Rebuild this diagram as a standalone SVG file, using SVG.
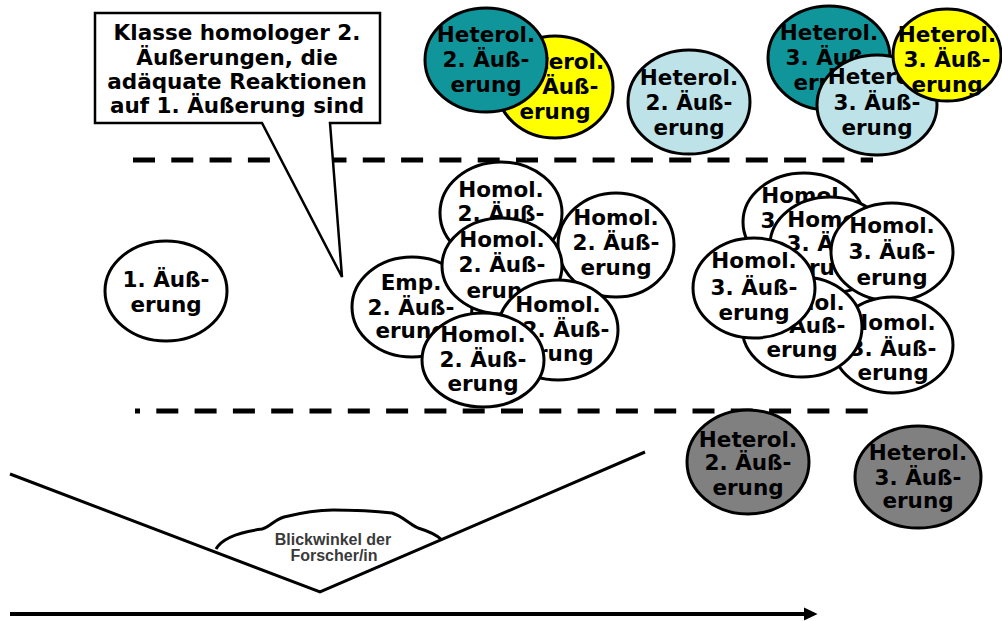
<svg xmlns="http://www.w3.org/2000/svg" width="1002" height="621" viewBox="0 0 1002 621">
<defs>
<style>
.n{stroke:#000;stroke-width:3}
.w{fill:#fff}
.teal{fill:#10959a}
.yel{fill:#ffff00}
.lb{fill:#bde3e8}
.gr{fill:#808080}
.t{font-family:"DejaVu Sans","Liberation Sans",sans-serif;font-weight:bold;font-size:21.5px;text-anchor:middle;fill:#000}
.c{font-family:"DejaVu Sans","Liberation Sans",sans-serif;font-weight:bold;font-size:21.5px;text-anchor:middle;fill:#000}
.s{font-family:"Liberation Sans",Arial,sans-serif;font-weight:bold;font-size:16px;text-anchor:middle;fill:#3a3a3a}
.dash{stroke:#000;stroke-width:5;stroke-dasharray:22 16.3;fill:none}
.ln{stroke:#000;stroke-width:3;fill:none}
</style>
<marker id="ah" markerWidth="5" markerHeight="5" refX="0.5" refY="2.5" orient="auto" markerUnits="strokeWidth">
<path d="M0,0.9 L3.4,2.5 L0,4.1 Z" fill="#000"/>
</marker>
</defs>
<rect width="1002" height="621" fill="#fff"/>

<g id="connectors">
<line class="dash" x1="133" y1="160" x2="873" y2="160"/>
<line class="dash" x1="135" y1="411" x2="881" y2="411" stroke-dashoffset="17"/>
<polyline class="ln" points="10,474 320,592 645,452"/>
<path class="ln" stroke-width="2.5" d="M216,549 C222,538 240,532 262,529 C270,527 274,520 284,517 C300,513 315,510 333,510 C355,510 375,511 392,513 C402,516 408,523 418,528 C428,531 436,534 442,540"/>
<line x1="10" y1="614" x2="806" y2="614" stroke="#000" stroke-width="4" marker-end="url(#ah)"/>
</g>

<g id="callout">
<path d="M95,13 H380 V123 H330 L342,277 L262,123 H95 Z" fill="#fff" stroke="#000" stroke-width="2.5" stroke-linejoin="miter"/>
<text class="c" x="237" y="40">Klasse homologer 2.</text>
<text class="c" x="237" y="65">Äußerungen, die</text>
<text class="c" x="237" y="89">adäquate Reaktionen</text>
<text class="c" x="237" y="113">auf 1. Äußerung sind</text>
</g>

<g id="blickwinkel">
<text class="s" x="333" y="545">Blickwinkel der</text>
<text class="s" x="334" y="561">Forscher/in</text>
</g>

<g id="n1">
<ellipse class="n w" cx="166" cy="291" rx="61" ry="50"/>
<text class="t" x="166" y="287">1. Äuß-</text>
<text class="t" x="166" y="312">erung</text>
</g>

<g id="het2-yellow">
<ellipse class="n yel" cx="555" cy="87" rx="58" ry="51"/>
<text class="t" x="555" y="69">Heterol.</text>
<text class="t" x="555" y="94">2. Äuß-</text>
<text class="t" x="555" y="119">erung</text>
</g>
<g id="het2-teal">
<ellipse class="n teal" cx="486" cy="60" rx="61" ry="52"/>
<text class="t" x="486" y="42">Heterol.</text>
<text class="t" x="486" y="67">2. Äuß-</text>
<text class="t" x="486" y="92">erung</text>
</g>
<g id="het2-lightblue">
<ellipse class="n lb" cx="689" cy="102" rx="61" ry="52"/>
<text class="t" x="689" y="85">Heterol.</text>
<text class="t" x="689" y="110">2. Äuß-</text>
<text class="t" x="689" y="135">erung</text>
</g>
<g id="het3-teal">
<ellipse class="n teal" cx="829" cy="58" rx="61" ry="52"/>
<text class="t" x="829" y="40">Heterol.</text>
<text class="t" x="829" y="65">3. Äuß-</text>
<text class="t" x="829" y="90">erung</text>
</g>
<g id="het3-lightblue">
<ellipse class="n lb" cx="877" cy="105" rx="60" ry="50"/>
<text class="t" x="877" y="84">Heterol.</text>
<text class="t" x="877" y="110">3. Äuß-</text>
<text class="t" x="877" y="135">erung</text>
</g>
<g id="het3-yellow">
<ellipse class="n yel" cx="947" cy="55" rx="54" ry="46"/>
<text class="t" x="947" y="42">Heterol.</text>
<text class="t" x="947" y="67">3. Äuß-</text>
<text class="t" x="947" y="92">erung</text>
</g>

<g id="hom2-a">
<ellipse class="n w" cx="501" cy="213" rx="61" ry="51"/>
<text class="t" x="501" y="197">Homol.</text>
<text class="t" x="501" y="221">2. Äuß-</text>
<text class="t" x="501" y="246">erung</text>
</g>
<g id="hom2-b">
<ellipse class="n w" cx="616" cy="245" rx="58" ry="52"/>
<text class="t" x="616" y="225">Homol.</text>
<text class="t" x="616" y="250">2. Äuß-</text>
<text class="t" x="616" y="275">erung</text>
</g>
<g id="emp2">
<ellipse class="n w" cx="412" cy="307" rx="60" ry="50"/>
<text class="t" x="411" y="290">Emp.</text>
<text class="t" x="411" y="315">2. Äuß-</text>
<text class="t" x="411" y="338">erung</text>
</g>
<g id="hom2-c">
<ellipse class="n w" cx="502" cy="266" rx="60" ry="48"/>
<text class="t" x="502" y="247">Homol.</text>
<text class="t" x="502" y="272">2. Äuß-</text>
<text class="t" x="502" y="298">erung</text>
</g>
<g id="hom2-e">
<ellipse class="n w" cx="558" cy="330" rx="60" ry="50"/>
<text class="t" x="558" y="312">Homol.</text>
<text class="t" x="566" y="337">2. Äuß-</text>
<text class="t" x="558" y="361">erung</text>
</g>
<g id="hom2-f">
<ellipse class="n w" cx="483" cy="360" rx="61" ry="47"/>
<text class="t" x="483" y="342">Homol.</text>
<text class="t" x="483" y="367">2. Äuß-</text>
<text class="t" x="483" y="391">erung</text>
</g>

<g id="hom3-g">
<ellipse class="n w" cx="804" cy="222" rx="61" ry="49"/>
<text class="t" x="804" y="203">Homol.</text>
<text class="t" x="804" y="228">3. Äuß-</text>
<text class="t" x="804" y="253">erung</text>
</g>
<g id="hom3-h">
<ellipse class="n w" cx="830" cy="245" rx="60" ry="48"/>
<text class="t" x="830" y="227">Homol.</text>
<text class="t" x="830" y="251">3. Äuß-</text>
<text class="t" x="830" y="275">erung</text>
</g>
<g id="hom3-i">
<ellipse class="n w" cx="892" cy="252" rx="61" ry="49"/>
<text class="t" x="892" y="233">Homol.</text>
<text class="t" x="892" y="259">3. Äuß-</text>
<text class="t" x="892" y="285">erung</text>
</g>
<g id="hom3-l">
<ellipse class="n w" cx="893" cy="345" rx="60" ry="48"/>
<text class="t" x="893" y="330">Homol.</text>
<text class="t" x="893" y="356">3. Äuß-</text>
<text class="t" x="893" y="380">erung</text>
</g>
<g id="hom3-k">
<ellipse class="n w" cx="802" cy="327" rx="60" ry="50"/>
<text class="t" x="802" y="310">Homol.</text>
<text class="t" x="802" y="333">3. Äuß-</text>
<text class="t" x="802" y="357">erung</text>
</g>
<g id="hom3-j">
<ellipse class="n w" cx="754" cy="288" rx="61" ry="50"/>
<text class="t" x="754" y="268">Homol.</text>
<text class="t" x="754" y="295">3. Äuß-</text>
<text class="t" x="754" y="320">erung</text>
</g>

<g id="het2-gray">
<ellipse class="n gr" cx="748" cy="462" rx="61" ry="52"/>
<text class="t" x="748" y="447">Heterol.</text>
<text class="t" x="748" y="470">2. Äuß-</text>
<text class="t" x="748" y="495">erung</text>
</g>
<g id="het3-gray">
<ellipse class="n gr" cx="918" cy="477" rx="63" ry="51"/>
<text class="t" x="918" y="460">Heterol.</text>
<text class="t" x="918" y="485">3. Äuß-</text>
<text class="t" x="918" y="508">erung</text>
</g>
</svg>
